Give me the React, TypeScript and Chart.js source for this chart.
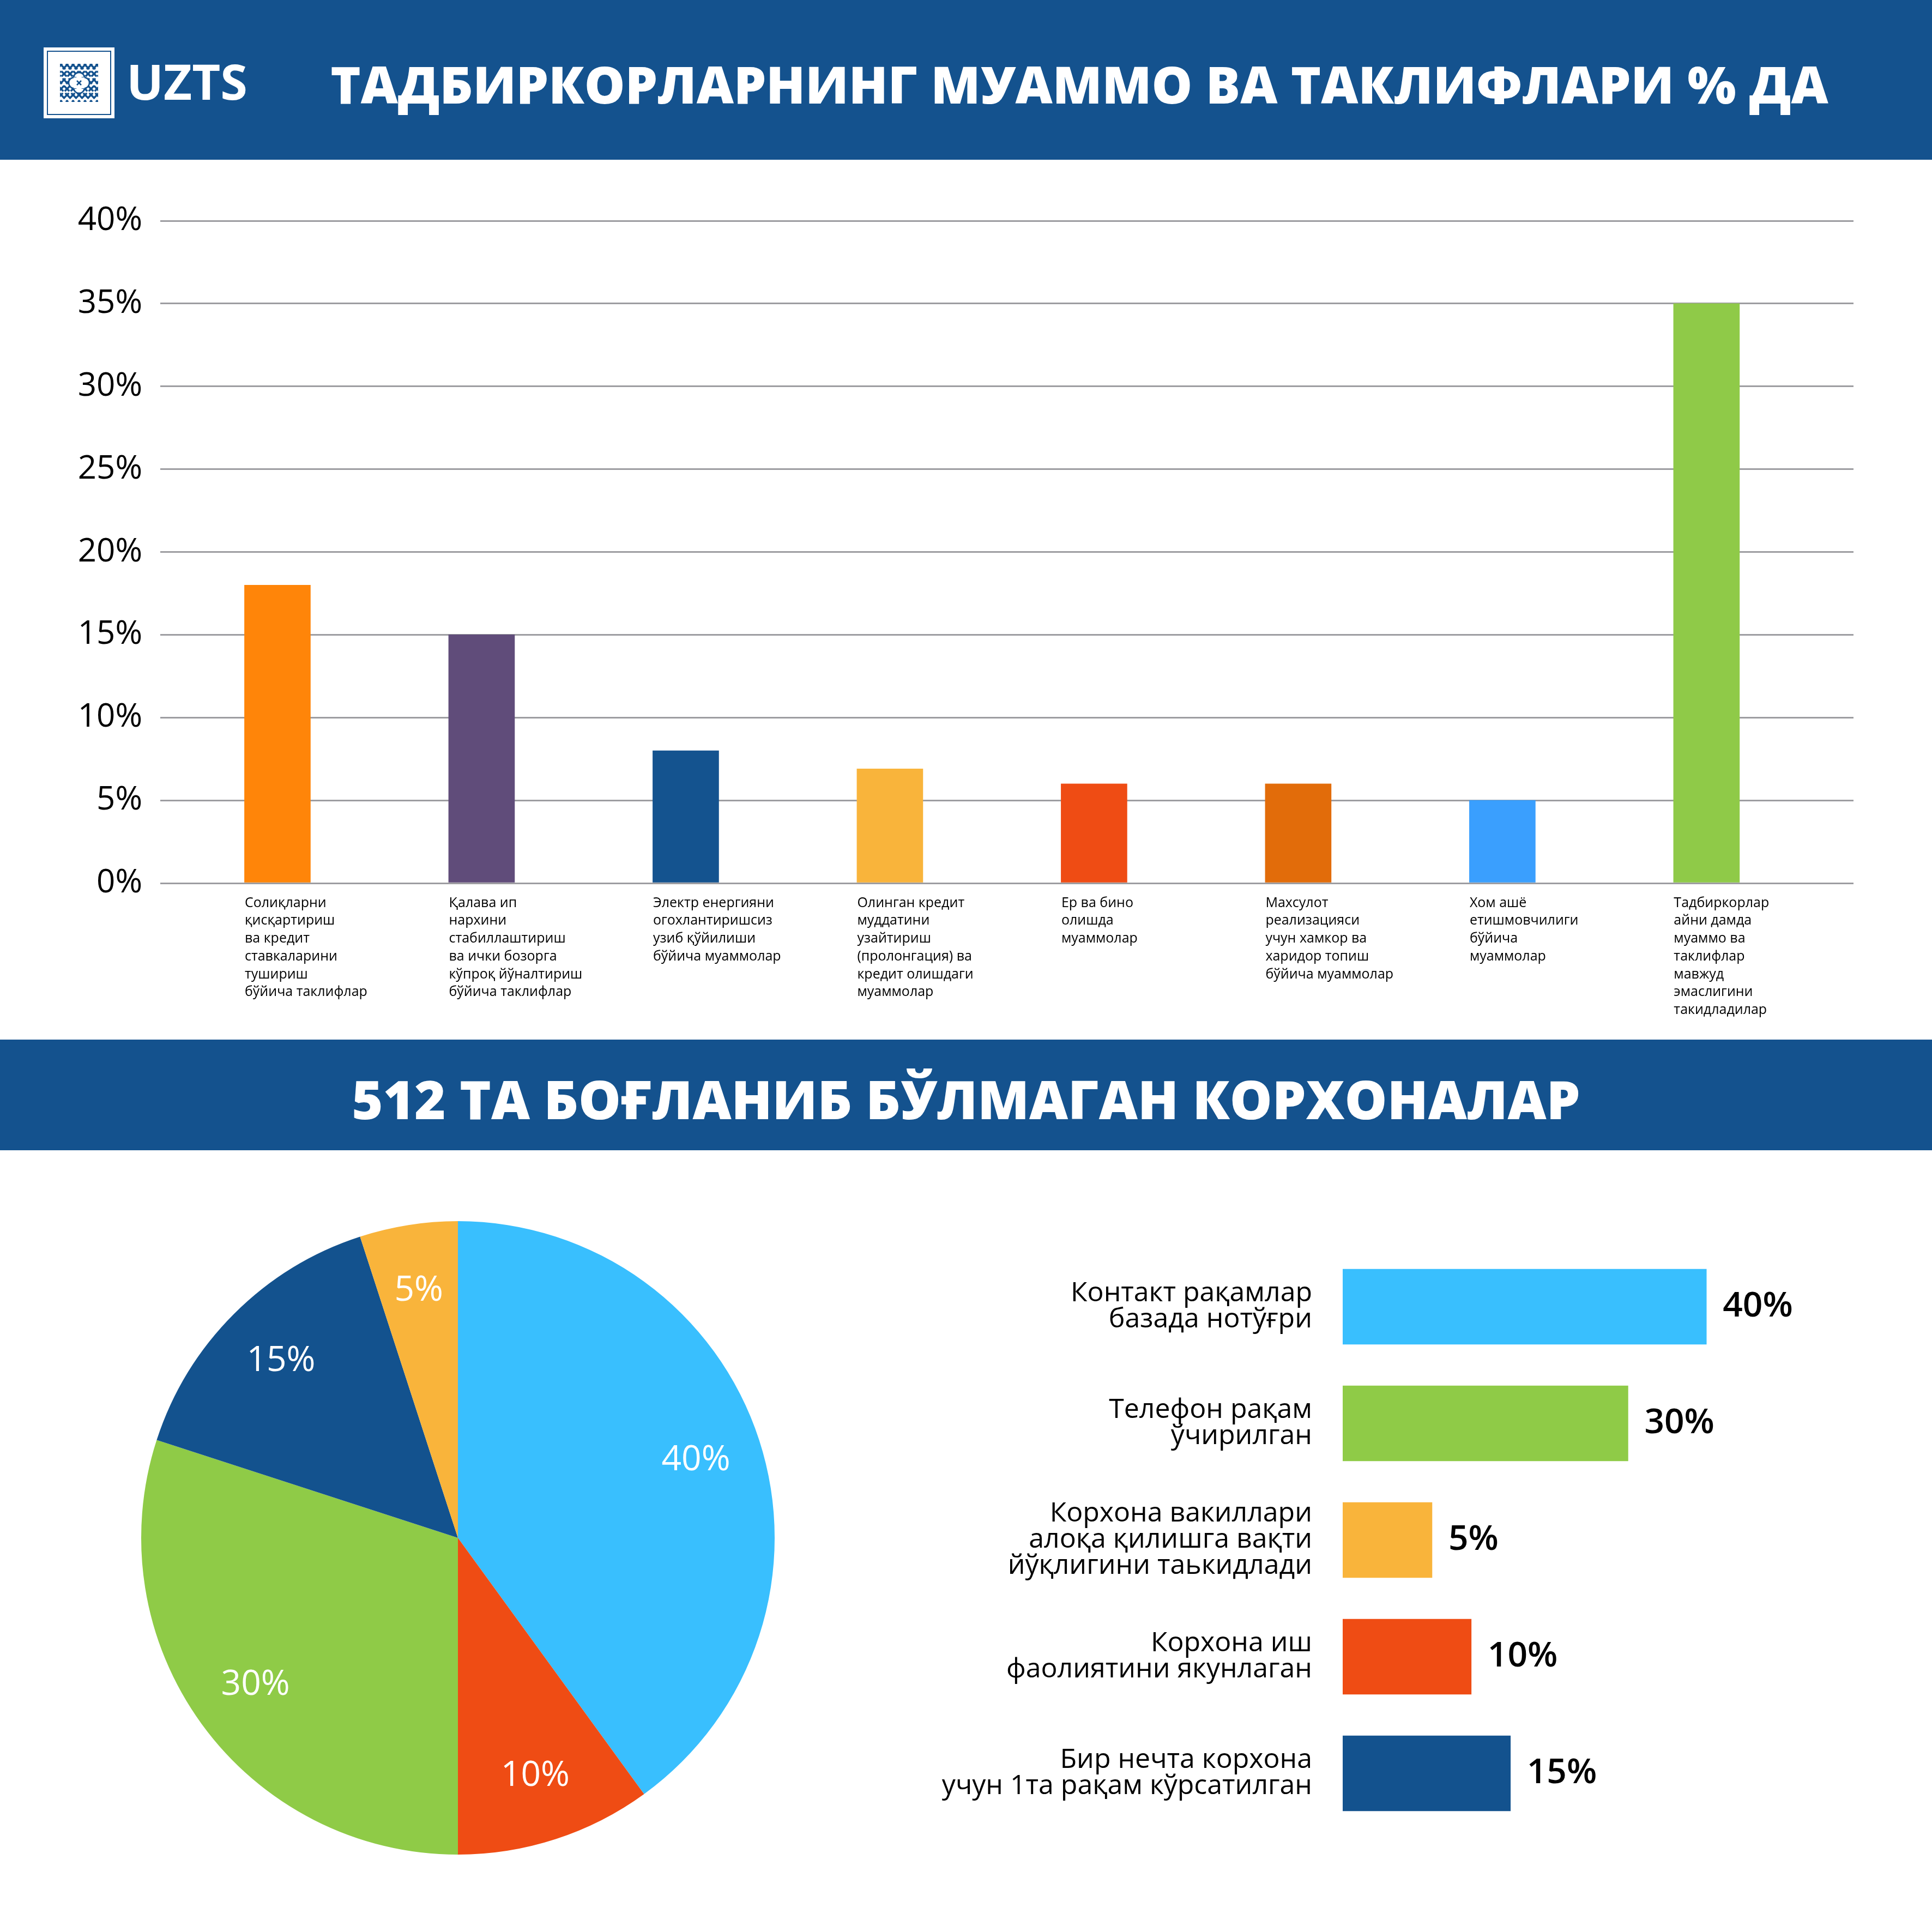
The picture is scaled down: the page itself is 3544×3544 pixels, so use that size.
import React, { useEffect, useRef } from "react";
import { Chart, registerables } from "chart.js";

Chart.register(...registerables);

const FONT = '"Open Sans", "Noto Sans", "DejaVu Sans", sans-serif';
const BLUE = "#14528E";

// ---- Bar chart: problems and proposals ----
const problemLabels: string[][] = [
  ["Солиқларни", "қисқартириш", "ва кредит", "ставкаларини", "тушириш", "бўйича таклифлар"],
  ["Қалава ип", "нархини", "стабиллаштириш", "ва ички бозорга", "кўпроқ йўналтириш", "бўйича таклифлар"],
  ["Электр енергияни", "огохлантиришсиз", "узиб қўйилиши", "бўйича муаммолар"],
  ["Олинган кредит", "муддатини", "узайтириш", "(пролонгация) ва", "кредит олишдаги", "муаммолар"],
  ["Ер ва бино", "олишда", "муаммолар"],
  ["Махсулот", "реализацияси", "учун хамкор ва", "харидор топиш", "бўйича муаммолар"],
  ["Хом ашё", "етишмовчилиги", "бўйича", "муаммолар"],
  ["Тадбиркорлар", "айни дамда", "муаммо ва", "таклифлар", "мавжуд", "эмаслигини", "такидладилар"],
];
const problemValues = [18, 15, 8, 6.9, 6, 6, 5, 35];
const problemColors = ["#FF8509", "#604C7A", "#14538F", "#F9B43B", "#EF4C14", "#E26C0A", "#3A9FFE", "#8FCA48"];
const yTickValues = [0, 5, 10, 15, 20, 25, 30, 35, 40];

// ---- Pie chart: 512 unconnected enterprises ----
const pieLabels = [
  "Контакт рақамлар базада нотўғри",
  "Корхона иш фаолиятини якунлаган",
  "Телефон рақам ўчирилган",
  "Бир нечта корхона учун 1та рақам кўрсатилган",
  "Корхона вакиллари алоқа қилишга вақти йўқлигини таькидлади",
];
const pieValues = [40, 10, 30, 15, 5];
const pieColors = ["#39BFFE", "#EF4C14", "#8FCB47", "#13528E", "#F9B43B"];

// ---- Horizontal bars: reasons ----
const reasonLabels: string[][] = [
  ["Контакт рақамлар", "базада нотўғри"],
  ["Телефон рақам", "ўчирилган"],
  ["Корхона вакиллари", "алоқа қилишга вақти", "йўқлигини таькидлади"],
  ["Корхона иш", "фаолиятини якунлаган"],
  ["Бир нечта корхона", "учун 1та рақам кўрсатилган"],
];
const reasonValues = [40, 30, 5, 10, 15];
const reasonColors = ["#39BFFE", "#8FCB47", "#F9B43B", "#EF4C14", "#13528E"];

const pieLabelPlugin = {
  id: "pieLabels",
  afterDatasetsDraw(chart: any) {
    const ctx = chart.ctx;
    const meta = chart.getDatasetMeta(0);
    const values = chart.data.datasets[0].data;
    ctx.save();
    ctx.fillStyle = "#ffffff";
    ctx.font = `500 64px ${FONT}`;
    ctx.textAlign = "center";
    ctx.textBaseline = "middle";
    meta.data.forEach((arc: any, i: number) => {
      const p = arc.getProps(["x", "y", "startAngle", "endAngle", "outerRadius"], true);
      const mid = (p.startAngle + p.endAngle) / 2;
      const r = p.outerRadius * 0.79;
      ctx.fillText(values[i] + "%", p.x + Math.cos(mid) * r, p.y + Math.sin(mid) * r);
    });
    ctx.restore();
  },
};

const hbarValuePlugin = {
  id: "hbarValues",
  afterDatasetsDraw(chart: any) {
    const ctx = chart.ctx;
    const meta = chart.getDatasetMeta(0);
    const values = chart.data.datasets[0].data;
    ctx.save();
    ctx.fillStyle = "#000000";
    ctx.font = `600 64px ${FONT}`;
    ctx.textAlign = "left";
    ctx.textBaseline = "middle";
    meta.data.forEach((bar: any, i: number) => {
      const p = bar.getProps(["x", "y"], true);
      ctx.fillText(values[i] + "%", p.x + 30, p.y);
    });
    ctx.restore();
  },
};

function Logo() {
  const lines: JSX.Element[] = [];
  for (let k = -7; k <= 7; k++) {
    const o = k * 11;
    lines.push(<line key={"a" + k} x1={30 + o} y1={30} x2={100 + o} y2={100} />);
    lines.push(<line key={"b" + k} x1={100 + o} y1={30} x2={30 + o} y2={100} />);
  }
  return (
    <svg width={130} height={130} style={{ position: "absolute", left: 80, top: 87 }}>
      <rect x={0} y={0} width={130} height={130} fill="#fff" />
      <rect x={7} y={7} width={116} height={116} fill="none" stroke={BLUE} strokeWidth={2} />
      <defs>
        <clipPath id="logoclip">
          <rect x={30} y={30} width={70} height={70} />
        </clipPath>
      </defs>
      <g clipPath="url(#logoclip)" stroke={BLUE} strokeWidth={3.5} strokeDasharray="14 5">
        {lines}
      </g>
      <g fill="#fff" stroke={BLUE} strokeWidth={2.5}>
        <circle cx={65} cy={56} r={10} />
        <circle cx={65} cy={74} r={10} />
        <circle cx={56} cy={65} r={10} />
        <circle cx={74} cy={65} r={10} />
      </g>
      <rect x={55} y={55} width={20} height={20} fill="#fff" />
      <g stroke={BLUE} strokeWidth={2.5}>
        <line x1={61} y1={61} x2={69} y2={69} />
        <line x1={69} y1={61} x2={61} y2={69} />
      </g>
    </svg>
  );
}

export default function App() {
  const barRef = useRef<HTMLCanvasElement>(null);
  const pieRef = useRef<HTMLCanvasElement>(null);
  const hbarRef = useRef<HTMLCanvasElement>(null);

  useEffect(() => {
    const charts: Chart[] = [];

    charts.push(
      new Chart(barRef.current as HTMLCanvasElement, {
        type: "bar",
        data: {
          datasets: [
            {
              data: problemValues.map((v, i) => ({ x: i, y: v })) as any,
              backgroundColor: problemColors,
              borderWidth: 0,
              barThickness: 121,
            },
          ],
        },
        options: {
          animation: false,
          responsive: false,
          maintainAspectRatio: false,
          layout: { padding: { top: 112, right: 144, left: 0, bottom: 0 } },
          plugins: { legend: { display: false }, tooltip: { enabled: false } },
          scales: {
            x: {
              type: "linear",
              offset: false,
              min: -0.574,
              max: 7.72,
              afterBuildTicks: (s: any) => {
                s.ticks = problemLabels.map((_, i) => ({ value: i }));
              },
              afterFit: (s: any) => {
                s.height = 287;
              },
              grid: { display: false, drawTicks: false },
              border: { display: false },
              ticks: {
                autoSkip: false,
                maxRotation: 0,
                minRotation: 0,
                align: "start",
                labelOffset: -60,
                padding: 20,
                color: "#000",
                font: { family: FONT, size: 25, lineHeight: 1.31 },
                callback: (v: any) => problemLabels[v] ?? "",
              },
            } as any,
            y: {
              min: 0,
              max: 40,
              afterBuildTicks: (s: any) => {
                s.ticks = yTickValues.map((v) => ({ value: v }));
              },
              afterFit: (s: any) => {
                s.width = 294;
              },
              grid: { color: "#9d9da1", lineWidth: 3, drawTicks: false },
              border: { display: false },
              ticks: {
                padding: 33,
                color: "#000",
                font: { family: FONT, size: 60 },
                callback: (v: any) => v + "%",
              },
            } as any,
          },
        },
      })
    );

    charts.push(
      new Chart(pieRef.current as HTMLCanvasElement, {
        type: "pie",
        data: {
          labels: pieLabels,
          datasets: [{ data: pieValues, backgroundColor: pieColors, borderWidth: 0 }],
        },
        options: {
          animation: false,
          responsive: false,
          maintainAspectRatio: false,
          layout: { padding: 19 },
          plugins: { legend: { display: false }, tooltip: { enabled: false } },
        },
        plugins: [pieLabelPlugin],
      })
    );

    charts.push(
      new Chart(hbarRef.current as HTMLCanvasElement, {
        type: "bar",
        data: {
          labels: reasonLabels as any,
          datasets: [
            {
              data: reasonValues,
              backgroundColor: reasonColors,
              borderWidth: 0,
              barThickness: 138,
              base: -6.4,
            } as any,
          ],
        },
        options: {
          indexAxis: "y",
          animation: false,
          responsive: false,
          maintainAspectRatio: false,
          layout: { padding: { top: 104, bottom: 126, left: 0, right: 270 } },
          plugins: { legend: { display: false }, tooltip: { enabled: false } },
          scales: {
            x: { display: false, min: -6.4, max: 50 },
            y: {
              afterFit: (s: any) => {
                s.width = 863;
              },
              grid: { display: false, drawTicks: false },
              border: { display: false },
              ticks: {
                padding: 56,
                color: "#000",
                font: { family: FONT, size: 50, lineHeight: 0.96 },
              },
            } as any,
          },
        },
        plugins: [hbarValuePlugin],
      })
    );

    return () => {
      charts.forEach((c) => c.destroy());
    };
  }, []);

  const titleStyle: React.CSSProperties = {
    position: "absolute",
    color: "#fff",
    fontFamily: FONT,
    fontWeight: 800,
    lineHeight: 1,
    whiteSpace: "nowrap",
    transform: "translateX(-50%)",
  };

  return (
    <div
      style={{
        position: "absolute",
        left: 0,
        top: 0,
        width: 3544,
        height: 3544,
        background: "#fff",
        overflow: "hidden",
        fontFamily: FONT,
      }}
    >
      <div style={{ position: "absolute", left: 0, top: 0, width: 3544, height: 293, background: BLUE }} />
      <Logo />
      <div
        style={{
          position: "absolute",
          left: 232,
          top: 103,
          color: "#fff",
          fontFamily: FONT,
          fontWeight: 700,
          fontSize: 90,
          lineHeight: 1,
          whiteSpace: "nowrap",
        }}
      >
        UZTS
      </div>
      <div style={{ ...titleStyle, left: 1980, top: 107, fontSize: 94 }}>
        ТАДБИРКОРЛАРНИНГ МУАММО ВА ТАКЛИФЛАРИ % ДА
      </div>

      <canvas
        ref={barRef}
        width={3544}
        height={1614}
        style={{ position: "absolute", left: 0, top: 293, width: 3544, height: 1614, display: "block" }}
      />

      <div style={{ position: "absolute", left: 0, top: 1907, width: 3544, height: 203, background: BLUE }} />
      <div style={{ ...titleStyle, left: 1772, top: 1966, fontSize: 98 }}>
        512 ТА БОҒЛАНИБ БЎЛМАГАН КОРХОНАЛАР
      </div>

      <canvas
        ref={pieRef}
        width={1200}
        height={1200}
        style={{ position: "absolute", left: 240, top: 2221, width: 1200, height: 1200, display: "block" }}
      />
      <canvas
        ref={hbarRef}
        width={1944}
        height={1300}
        style={{ position: "absolute", left: 1600, top: 2186, width: 1944, height: 1300, display: "block" }}
      />
    </div>
  );
}
